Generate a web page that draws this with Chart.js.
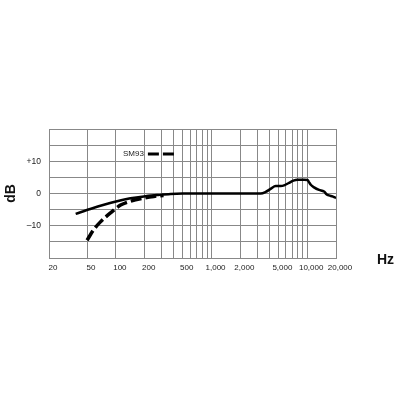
<!DOCTYPE html>
<html lang="en">
<head>
    <meta charset="UTF-8">
    <title>SM93 Frequency Response</title>
    <script src="https://cdn.jsdelivr.net/npm/chart.js"></script>
    <style>
        body {
            margin: 0;
            padding: 0;
            background: #fff;
        }
    </style>
</head>
<body>
    <canvas id="response-chart" width="400" height="400"></canvas>

    <script>
        // frequency (Hz) / level (dB)
        const solidFreq = [38, 54, 75, 103, 142, 196, 270, 373, 500, 1000, 2000, 3260,
            3680, 4150, 4690, 5290, 5730, 6460, 7180, 7910, 9270, 10060, 10400,
            10900, 11800, 13300, 15000, 15900, 16900, 18400, 20000];
        const solidDb = [-6.3, -4.8, -3.5, -2.4, -1.5, -0.9, -0.5, -0.15, 0, 0, 0, 0,
            0.5, 1.45, 2.3, 2.3, 2.5, 3.3, 4.0, 4.3, 4.3, 4.2, 3.6,
            2.7, 1.9, 1.1, 0.6, -0.2, -0.6, -0.9, -1.4];

        const dashFreq = [50, 59, 69, 88, 112, 142, 188, 249, 315];
        const dashDb = [-14.5, -11.1, -8.8, -6.0, -3.6, -2.4, -1.5, -0.9, -0.6];

        const xGridValues = [20, 50, 100, 200, 300, 400, 500, 600, 700, 800, 900, 1000,
            2000, 3000, 4000, 5000, 6000, 7000, 8000, 9000, 10000, 20000];
        const xLabelValues = [20, 50, 100, 200, 500, 1000, 2000, 5000, 10000, 20000];
        const xTickLabels = ['20', '50', '100', '200', '500', '1,000', '2,000', '5,000', '10,000', '20,000'];

        const yLabelValues = [10, 0, -10];
        const yTickLabels = ['+10', '0', '\u201310'];

        const seriesName = 'SM93';

        Chart.defaults.font.family = 'Arial, "Liberation Sans", sans-serif';
        Chart.defaults.color = '#222';

        const toPoints = (xs, ys) => xs.map((x, i) => ({ x: x, y: ys[i] }));

        // legend sits inside the plot, text first then the dashed sample
        const insideLegend = {
            id: 'insideLegend',
            afterDraw(chart, args, opts) {
                const ds = chart.data.datasets[opts.datasetIndex];
                const ctx = chart.ctx;
                ctx.save();
                ctx.font = '8px Arial, "Liberation Sans", sans-serif';
                ctx.fillStyle = '#222';
                ctx.textBaseline = 'middle';
                ctx.fillText(ds.label, opts.x, opts.y);
                const w = ctx.measureText(ds.label).width;
                ctx.strokeStyle = ds.borderColor;
                ctx.lineWidth = 3;
                ctx.setLineDash(ds.borderDash);
                ctx.beginPath();
                ctx.moveTo(opts.x + w + 4, opts.y);
                ctx.lineTo(opts.x + w + 30, opts.y);
                ctx.stroke();
                ctx.restore();
            }
        };

        // "Hz" unit label to the right of the x axis
        const unitLabel = {
            id: 'unitLabel',
            afterDraw(chart, args, opts) {
                const ctx = chart.ctx;
                ctx.save();
                ctx.font = 'bold 14px Arial, "Liberation Sans", sans-serif';
                ctx.fillStyle = '#111';
                ctx.textBaseline = 'middle';
                ctx.fillText(opts.text, opts.x, opts.y);
                ctx.restore();
            }
        };

        const gridColor = '#888';

        new Chart(document.getElementById('response-chart'), {
            type: 'line',
            data: {
                datasets: [
                    {
                        label: 'flat',
                        data: toPoints(solidFreq, solidDb),
                        borderColor: '#000',
                        borderWidth: 2.5,
                        pointRadius: 0,
                        cubicInterpolationMode: 'monotone',
                    },
                    {
                        label: seriesName,
                        data: toPoints(dashFreq, dashDb),
                        borderColor: '#000',
                        borderWidth: 3.5,
                        borderDash: [11, 4],
                        pointRadius: 0,
                        cubicInterpolationMode: 'monotone',
                    },
                ],
            },
            options: {
                responsive: false,
                animation: false,
                layout: {
                    padding: { top: 129, right: 64, bottom: 112, left: 0 }
                },
                plugins: {
                    legend: { display: false },
                    tooltip: { enabled: false },
                    insideLegend: { datasetIndex: 1, x: 123, y: 154 },
                    unitLabel: { text: 'Hz', x: 377, y: 260 },
                },
                scales: {
                    x: {
                        type: 'logarithmic',
                        min: 20,
                        max: 20000,
                        afterBuildTicks: (scale) => {
                            scale.ticks = xGridValues.map(v => ({ value: v }));
                        },
                        afterFit: (scale) => {
                            scale.height = 30;
                        },
                        ticks: {
                            autoSkip: false,
                            maxRotation: 0,
                            minRotation: 0,
                            padding: 5,
                            labelOffset: 4,
                            font: { size: 8 },
                            callback: (value) => {
                                const i = xLabelValues.indexOf(value);
                                return i >= 0 ? xTickLabels[i] : '';
                            }
                        },
                        grid: {
                            color: gridColor,
                            drawTicks: false,
                        },
                        border: { color: gridColor },
                    },
                    y: {
                        min: -20,
                        max: 20,
                        afterFit: (scale) => {
                            scale.width = 49;
                        },
                        ticks: {
                            stepSize: 5,
                            padding: 8,
                            font: { size: 8.5 },
                            callback: (value) => {
                                const i = yLabelValues.indexOf(value);
                                return i >= 0 ? yTickLabels[i] : '';
                            }
                        },
                        grid: {
                            color: gridColor,
                            drawTicks: false,
                        },
                        border: { color: gridColor },
                        title: {
                            display: true,
                            text: 'dB',
                            color: '#111',
                            font: { size: 14, weight: 'bold' },
                            padding: { top: 3, bottom: 0 },
                        },
                    },
                },
            },
            plugins: [insideLegend, unitLabel],
        });
    </script>
</body>
</html>
